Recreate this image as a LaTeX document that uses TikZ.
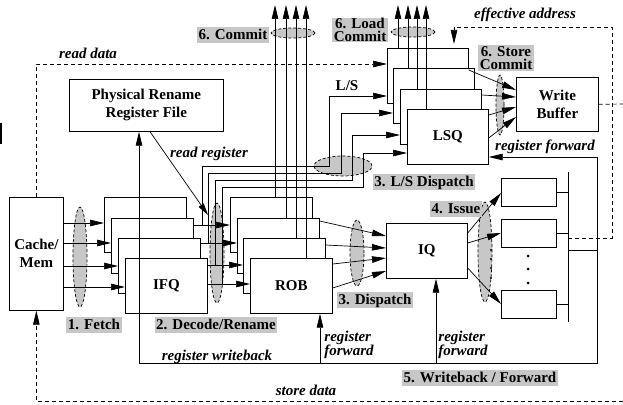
\documentclass[tikz,border=0pt]{standalone}
\usepackage{fontspec}
\setmainfont{Liberation Serif}
\usetikzlibrary{arrows.meta,shapes.geometric}
\definecolor{lgray}{gray}{0.78}
\definecolor{egray}{gray}{0.78}
\begin{document}
\begin{tikzpicture}[x=1pt,y=-1pt, line width=0.7pt,
  >={Triangle[length=14pt,width=6.5pt]},
  bfont/.style={font=\bfseries\fontsize{15}{18}\selectfont},
  qbox/.style={draw, fill=white, minimum width=82pt, minimum height=55pt, inner sep=0pt, anchor=north west, bfont},
  fubox/.style={draw, fill=white, minimum width=55pt, minimum height=28pt, inner sep=0pt, anchor=north west},
  dashline/.style={dash pattern=on 4pt off 3pt},
  gell/.style={ellipse, draw, fill=egray, dash pattern=on 3pt off 2pt, inner sep=0pt},
  glabel/.style={fill=lgray, inner xsep=1.5pt, inner ysep=1pt, text height=11pt, text depth=2.5pt, bfont},
  glabeltwo/.style={fill=lgray, inner xsep=1.5pt, inner ysep=0.5pt, align=center, font=\bfseries\fontsize{15}{12.5}\selectfont},
  ilabel/.style={inner sep=0pt, font=\bfseries\itshape\fontsize{15}{12.5}\selectfont},
]
\useasboundingbox (0,0) rectangle (623,404);

% gray ellipses
\node[gell, minimum width=14pt, minimum height=100pt] (fetchE) at (80,257) {};
\node[gell, minimum width=14pt, minimum height=100pt] (decE) at (217,253) {};
\node[gell, minimum width=14pt, minimum height=66pt] (dispE) at (357,253) {};
\node[gell, minimum width=14pt, minimum height=100pt] (issueE) at (485,252) {};
\node[gell, minimum width=58pt, minimum height=20pt] (lsdE) at (343,166) {};
\node[gell, minimum width=44pt, minimum height=10pt] (comE) at (293,33) {};
\node[gell, minimum width=44pt, minimum height=10pt] (lcomE) at (413,32) {};
\node[gell, minimum width=8pt, minimum height=60pt] (scomE) at (500,105) {};

% single boxes
\node[draw, fill=white, minimum width=54pt, minimum height=113pt, inner sep=0pt, anchor=north west, bfont, align=center] (cache) at (9,197) {Cache/\\Mem};
\node[draw, fill=white, minimum width=154pt, minimum height=52pt, inner sep=0pt, anchor=north west, bfont, align=center] (prrf) at (69,79) {Physical Rename\\Register File};
\node[qbox, minimum width=81pt] (iq) at (386,223) {IQ};
\node[qbox, minimum height=54pt, align=center] (wb) at (516,77) {Write\\Buffer};
\node[fubox] (fu1) at (501,178) {};
\node[fubox] (fu2) at (501,219) {};
\node[fubox] (fu3) at (501,290) {};

% stacks
\node[qbox] (ifq1) at (104,197) {};
\node[qbox] (ifq2) at (111,218) {};
\node[qbox] (ifq3) at (118,238) {};
\node[qbox] (ifq) at (125,258) {IFQ};
\node[qbox] (rob1) at (230,197) {};
\node[qbox] (rob2) at (237,218) {};
\node[qbox] (rob3) at (243,238) {};
\node[qbox] (rob) at (250,258) {ROB};
\node[qbox, minimum width=81pt] (lsq1) at (387,48) {};
\node[qbox, minimum width=81pt] (lsq2) at (393,68) {};
\node[qbox, minimum width=81pt] (lsq3) at (400,89) {};
\node[qbox, minimum width=81pt] (lsq) at (407,109) {LSQ};

% fetch
\foreach \yy/\tt in {223/ifq1, 243/ifq2, 266/ifq3, 287/ifq}
  \draw[->] (cache.east |- 0,\yy) -- (\tt.west |- 0,\yy);

% decode / rename
\draw[->] (ifq2.east |- 0,225) -- (rob1.west |- 0,225);
\draw[->] (ifq3.east |- 0,243) -- (rob2.west |- 0,243);
\draw[->] (ifq.east |- 0,265) -- (rob3.west |- 0,265);
\draw[->] (ifq.east |- 0,284) -- (rob.west |- 0,284);

% L/S dispatch
\draw[->] (202,225) |- (329,166) |- (lsq1.west |- 0,96);
\draw[->] (208,243) |- (341,173) |- (lsq2.west |- 0,113);
\draw[->] (215,265) |- (352,180) |- (lsq3.west |- 0,135);
\draw[->] (222,284) |- (363,187) |- (lsq.west |- 0,153);

% commit
\draw[->] (rob1.north -| 275,0) -- (275,5);
\draw[->] (rob2.north -| 286,0) -- (286,5);
\draw[->] (rob3.north -| 296,0) -- (296,5);
\draw[->] (rob.north -| 306,0) -- (306,5);
\draw[->] (lsq1.north -| 398,0) -- (398,5);
\draw[->] (lsq2.north -| 408,0) -- (408,5);
\draw[->] (lsq3.north -| 417,0) -- (417,5);
\draw[->] (lsq.north -| 426,0) -- (426,5);

% dispatch
\draw[->] (rob2.east |- 0,221) -- (iq.west |- 0,236);
\draw[->] (rob3.east |- 0,245) -- (iq.west |- 0,248);
\draw[->] (rob.east |- 0,264) -- (iq.west |- 0,258);
\draw[->] (rob.east |- 0,288) -- (iq.west |- 0,271);

% issue
\draw[->] (iq.east |- 0,233) -- (fu1.west |- 0,193);
\draw[->] (iq.east |- 0,243) -- (fu2.west |- 0,233);
\draw[->] (iq.east |- 0,268) -- (fu3.west |- 0,304);
\foreach \yy in {250,259,268,278} \fill (491,\yy) circle (1.2pt);
\foreach \yy in {256,269,283} \fill (528,\yy) circle (1.5pt);

% store commit
\draw[->] (lsq1.east |- 0,70) -- (wb.west |- 0,90);
\draw[->] (lsq3.east |- 0,95) -- (wb.west |- 0,97);
\draw[->] (lsq.east |- 0,115) -- (wb.west |- 0,107);
\draw[->] (lsq.east |- 0,138) -- (wb.west |- 0,117);

% result bus and writeback
\coordinate (bustop) at (568,172);
\coordinate (busbot) at (568,322);
\draw (bustop) -- (busbot);
\draw (fu1.east) -- (fu1.east -| bustop);
\draw (fu2.east) -- (fu2.east -| bustop);
\draw (fu3.east) -- (fu3.east -| bustop);
\coordinate (wbk) at (597,250);
\draw (568,250) -- (wbk);
\draw[->] (wbk) |- (lsq.east |- 0,157);
\draw[->] (wbk) |- (139,363) -- (prrf.south -| 139,0);
\draw[->] (320,363) -- (rob.south -| 320,0);
\draw[->] (436,363) -- (iq.south -| 436,0);

% read register
\draw[->, >={Triangle[length=12pt,width=6pt]}] (prrf.south -| 150,0) -- (208,215);

% dashed memory paths
\draw[dashline,->] (cache.north) |- (lsq1.west |- 0,64);
\draw[dashline,->] (568,238) -| (612,27) -| (454,44);
\draw[dashline] (wb.east) -- (623,104);
\draw[dashline,->] (623,401) -| (cache.south);

% left bar
\draw[line width=2pt] (1,123) -- (1,144);

% labels
\node[ilabel] (lreaddata) at (88,53) {read data};
\node[ilabel] (leff) at (525,15) {effective address};
\node[ilabel] (lreadreg) at (209,154) {read register};
\node[ilabel] (lregfwd) at (545,147) {register forward};
\node[ilabel] (lregwb) at (217,357) {register writeback};
\node[ilabel, align=left] (lfwd1) at (349,345) {register\\forward};
\node[ilabel, align=left] (lfwd2) at (463,345) {register\\forward};
\node[ilabel] (lstore) at (306,390) {store data};
\node[bfont, inner sep=0pt] (lls) at (347,86) {L/S};

\node[glabel] (gcommit) at (233,35) {6. Commit};
\node[glabeltwo] (gload) at (360,30) {6. Load\\Commit};
\node[glabeltwo, font=\bfseries\fontsize{15}{13}\selectfont, inner ysep=1pt] (gstore) at (506,58) {6. Store\\Commit};
\node[glabel] (glsd) at (424,182) {3. L/S Dispatch};
\node[glabel] (gissue) at (456,209) {4. Issue};
\node[glabel] (gdisp) at (375,300) {3. Dispatch};
\node[glabel] (gfetch) at (94,325) {1. Fetch};
\node[glabel] (gdec) at (216,325) {2. Decode/Rename};
\node[glabel] (gwb) at (480,378) {5. Writeback / Forward};
\end{tikzpicture}
\end{document}
